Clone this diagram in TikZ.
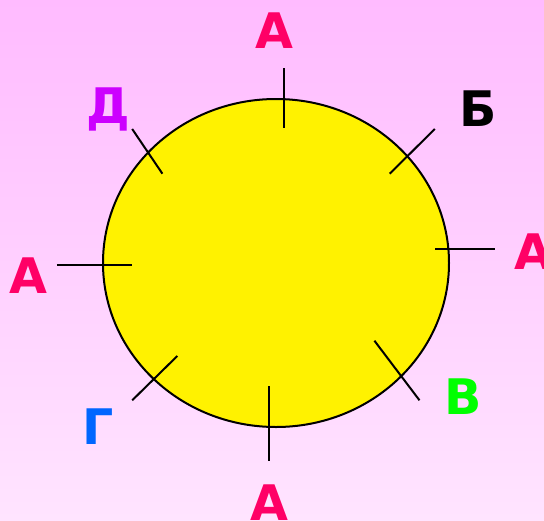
\documentclass[tikz,border=0pt]{standalone}
\usepackage{fontspec}
\setmainfont{DejaVu Sans}
\usetikzlibrary{shapes.geometric}
\definecolor{bgtop}{RGB}{255,187,255}
\definecolor{bgbot}{RGB}{255,228,255}
\definecolor{cA}{RGB}{255,0,102}
\definecolor{cD}{RGB}{204,0,255}
\definecolor{cV}{RGB}{0,255,0}
\definecolor{cG}{RGB}{0,102,255}
\tikzset{
  lbl/.style={anchor=base,inner sep=0pt,font=\fontsize{49}{49}\selectfont\bfseries},
  tick/.style={draw=black,line width=2pt},
}
\begin{document}
\begin{tikzpicture}[x=1pt,y=-1pt]
\clip (0,0) rectangle (544,520);
\shade[top color=bgtop,bottom color=bgbot] (0,0) rectangle (544,520);
\node[ellipse,draw=black,line width=2pt,fill=yellow,minimum width=346pt,minimum height=328pt,inner sep=0pt] (sun) at (276,263) {};
% ticks
\coordinate (t1a) at (283.8,68); \coordinate (t1b) at (283.8,128);
\coordinate (t2a) at (434.8,129); \coordinate (t2b) at (389.7,173.7);
\coordinate (t3a) at (132.2,129); \coordinate (t3b) at (162.4,173.7);
\coordinate (t4a) at (435,249.3); \coordinate (t4b) at (495,249.3);
\coordinate (t5a) at (56.9,265); \coordinate (t5b) at (131.9,265);
\coordinate (t6a) at (132.2,400.3); \coordinate (t6b) at (177.3,356);
\coordinate (t7a) at (374.4,340.7); \coordinate (t7b) at (419.5,400.3);
\coordinate (t8a) at (268.6,386); \coordinate (t8b) at (268.6,461.3);
\foreach \i in {1,...,8} {\draw[tick] (t\i a) -- (t\i b);}
% labels
\node[lbl,text=cA] (ltop) at (274,48) {А};
\node[lbl,text=cD] (lD) at (108,123) {Д};
\node[lbl,text=black] (lB) at (478,126.7) {Б};
\node[lbl,text=cA] (lright) at (533.5,269) {А};
\node[lbl,text=cA] (lleft) at (28,293) {А};
\node[lbl,text=cV] (lV) at (462.7,414) {В};
\node[lbl,text=cG] (lG) at (98,444) {Г};
\node[lbl,text=cA] (lbot) at (269.6,520) {А};
\end{tikzpicture}
\end{document}
